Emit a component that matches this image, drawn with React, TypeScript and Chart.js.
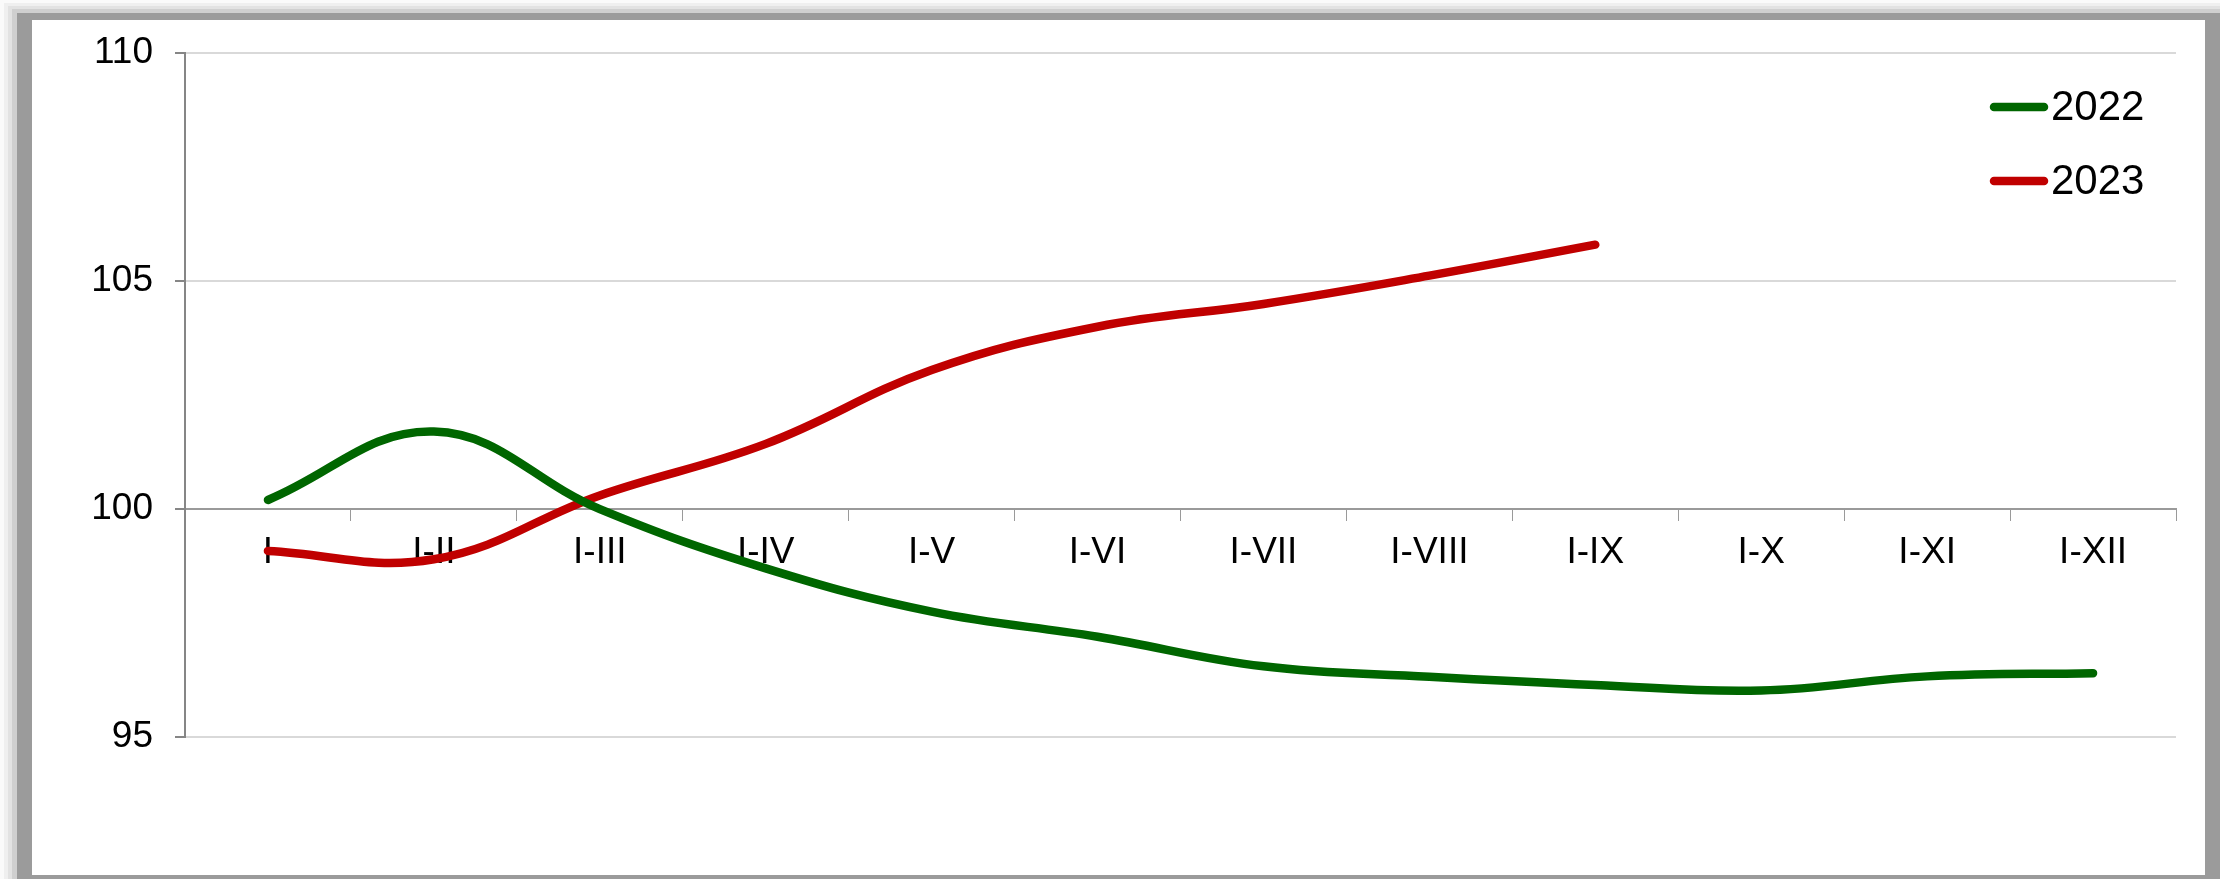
import React, { useEffect, useRef } from "react";
import { Chart, registerables } from "chart.js";

Chart.register(...registerables);

const categories = ["I", "I-II", "I-III", "I-IV", "I-V", "I-VI", "I-VII", "I-VIII", "I-IX", "I-X", "I-XI", "I-XII"];
const values2022 = [100.2, 101.7, 100.0, 98.7, 97.75, 97.2, 96.55, 96.32, 96.14, 96.02, 96.33, 96.4];
const values2023 = [99.08, 98.9, 100.3, 101.43, 103.05, 104.0, 104.5, 105.12, 105.8, null, null, null];
const seriesNames = ["2022", "2023"];
const seriesColors = ["#006600", "#C00000"];
const yTicks = { min: 95, max: 110, step: 5 };

const FONT = "'Liberation Sans', Arial, sans-serif";

const legendPlugin = {
  id: "insideLegend",
  afterDraw(chart: any) {
    const ctx = chart.ctx;
    ctx.save();
    chart.data.datasets.forEach((ds: any, i: number) => {
      const y = 98 + i * 74;
      ctx.strokeStyle = ds.borderColor;
      ctx.lineWidth = 8.5;
      ctx.lineCap = "round";
      ctx.beginPath();
      ctx.moveTo(1962, y);
      ctx.lineTo(2012, y);
      ctx.stroke();
      ctx.fillStyle = "#000";
      ctx.font = `42px ${FONT}`;
      ctx.textBaseline = "middle";
      ctx.textAlign = "left";
      ctx.fillText(ds.label, 2019, y + 1);
    });
    ctx.restore();
  },
};

export default function App() {
  const ref = useRef<HTMLCanvasElement>(null);
  useEffect(() => {
    if (!ref.current) return;
    const chart = new Chart(ref.current, {
      type: "line",
      data: {
        labels: categories,
        datasets: [
          {
            label: seriesNames[0],
            data: values2022,
            borderColor: seriesColors[0],
            backgroundColor: seriesColors[0],
            borderWidth: 8.5,
            borderCapStyle: "round",
            tension: 0.4,
            pointRadius: 0,
            fill: false,
          },
          {
            label: seriesNames[1],
            data: values2023,
            borderColor: seriesColors[1],
            backgroundColor: seriesColors[1],
            borderWidth: 8.5,
            borderCapStyle: "round",
            tension: 0.4,
            pointRadius: 0,
            fill: false,
          },
        ],
      },
      options: {
        responsive: false,
        animation: false,
        maintainAspectRatio: false,
        layout: { padding: { left: 0, top: 20, right: 29, bottom: 138 } },
        plugins: {
          legend: { display: false },
          tooltip: { enabled: false },
        },
        scales: {
          x: {
            type: "category",
            position: { y: 100 } as any,
            offset: true,
            grid: {
              display: true,
              drawOnChartArea: false,
              drawTicks: true,
              tickLength: 11,
              offset: true,
              color: "#9a9a9a",
              lineWidth: 1,
            },
            border: { display: true, color: "#9a9a9a", width: 2 },
            ticks: {
              color: "#000",
              font: { family: FONT, size: 37 },
              padding: 11,
              maxRotation: 0,
              autoSkip: false,
            },
          },
          y: {
            min: yTicks.min,
            max: yTicks.max,
            afterFit: (scale: any) => {
              scale.width = 153;
            },
            grid: {
              color: "#d9d9d9",
              lineWidth: 2,
              tickColor: "#868686",
              tickLength: 10,
            },
            border: { display: true, color: "#868686", width: 2 },
            ticks: {
              stepSize: yTicks.step,
              color: "#000",
              font: { family: FONT, size: 37 },
              padding: 22,
            },
          },
        },
      },
      plugins: [legendPlugin],
    });
    return () => chart.destroy();
  }, []);

  const layer = (l: number, t: number, bg: string): React.CSSProperties => ({
    position: "absolute",
    left: l,
    top: t,
    right: 0,
    bottom: 0,
    background: bg,
  });

  return (
    <div style={{ position: "fixed", left: 0, top: 0, width: 2220, height: 879, overflow: "hidden", background: "#fafafa" }}>
      <div style={layer(4, 3, "#efefef")} />
      <div style={layer(8, 6, "#e2e2e2")} />
      <div style={layer(12, 9, "#cfcfcf")} />
      <div style={layer(17, 13, "#9b9b9b")} />
      <div style={{ position: "absolute", left: 32, top: 20, width: 2173, height: 855, background: "#fff" }}>
        <canvas
          ref={ref}
          width={2173}
          height={866}
          style={{ position: "absolute", left: 0, top: -11, display: "block", width: 2173, height: 866 }}
        />
      </div>
    </div>
  );
}
